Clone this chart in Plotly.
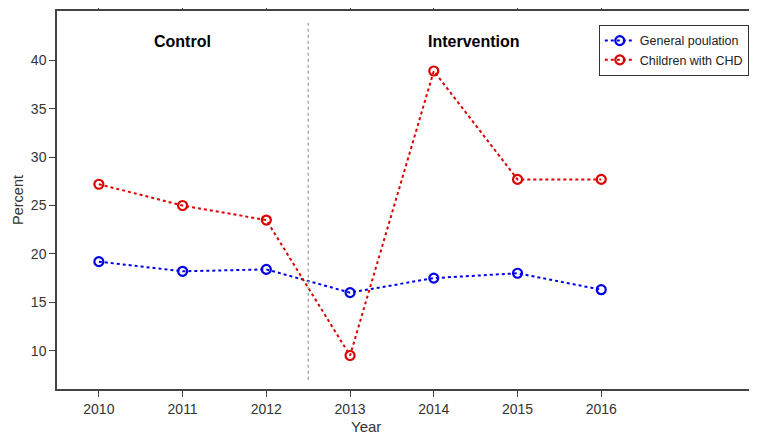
import plotly.graph_objects as go

years = [2010, 2011, 2012, 2013, 2014, 2015, 2016]
general = [19.2, 18.2, 18.4, 16.0, 17.5, 18.0, 16.3]
chd = [27.2, 25.0, 23.5, 9.5, 38.9, 27.7, 27.7]
series_names = ["General poulation", "Children with CHD"]
phase_labels = ["Control", "Intervention"]

fnt = "Liberation Sans, Arial, sans-serif"
fig = go.Figure()
fig.add_trace(go.Scatter(
    x=years, y=general, name=series_names[0], mode="lines+markers",
    line=dict(color="#0000e6", width=2, dash="dot"),
    marker=dict(symbol="circle-open", size=9, color="#0000e6", line=dict(width=2.2)),
))
fig.add_trace(go.Scatter(
    x=years, y=chd, name=series_names[1], mode="lines+markers",
    line=dict(color="#dd0000", width=2, dash="dot"),
    marker=dict(symbol="circle-open", size=9, color="#dd0000", line=dict(width=2.2)),
))
fig.add_shape(type="line", x0=2012.5, x1=2012.5, y0=7.0, y1=44.0,
              line=dict(color="#999999", width=1.2, dash="dot"))
fig.add_annotation(x=2011, y=41.9, text="<b>" + phase_labels[0] + "</b>", showarrow=False,
                   font=dict(family=fnt, size=16, color="black"))
fig.add_annotation(x=2014.48, y=41.9, text="<b>" + phase_labels[1] + "</b>", showarrow=False,
                   font=dict(family=fnt, size=16, color="black"))
# x-axis title (offset left of centre as in the reference)
fig.add_annotation(xref="paper", yref="paper", x=0.441, y=-0.099, text="Year",
                   showarrow=False, xanchor="center", yanchor="middle",
                   font=dict(family=fnt, size=15, color="#333333"))

fig.update_layout(
    width=749, height=429,
    margin=dict(l=49, r=0, t=3, b=48, autoexpand=False),
    paper_bgcolor="white", plot_bgcolor="white",
    font=dict(family=fnt, size=14, color="#333333"),
    showlegend=True,
    legend=dict(x=0.774, y=0.963, xanchor="left", yanchor="top",
                bgcolor="white", bordercolor="#333333", borderwidth=1,
                font=dict(family=fnt, size=12.5, color="#222222"),
                tracegroupgap=0, itemwidth=30),
    xaxis=dict(range=[2009.5, 2017.86], tickmode="array", tickvals=years,
               ticktext=[str(y) for y in years], automargin=False,
               showgrid=False, zeroline=False, showline=True, linecolor="#444444",
               linewidth=1.5, mirror="ticks", ticks="outside", ticklen=6,
               tickcolor="#444444"),
    yaxis=dict(range=[6.04, 45.1], tickvals=[10, 15, 20, 25, 30, 35, 40],
               automargin=False,
               showgrid=False, zeroline=False, showline=True, linecolor="#444444",
               linewidth=1.5, ticks="outside", ticklen=6, tickcolor="#444444",
               title=dict(text="Percent", standoff=4, font=dict(size=14.5))),
)
fig.write_html("out.html")
